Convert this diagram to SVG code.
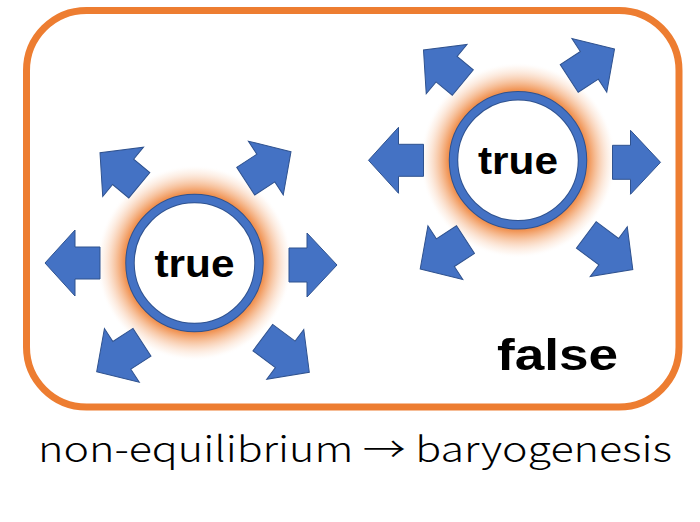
<svg xmlns="http://www.w3.org/2000/svg" xmlns:xlink="http://www.w3.org/1999/xlink" width="700" height="522" viewBox="0 0 700 522">
  <style>
    .frame { fill: none; stroke: #ED7D31; stroke-width: 7; }
    .arrow { fill: #4472C4; stroke: #2F528F; stroke-width: 1; stroke-linejoin: miter; }
    .ringOuter { fill: #ffffff; stroke: #2F528F; stroke-width: 9.5; }
    .ringInner { fill: none; stroke: #4472C4; stroke-width: 7.5; }
    .lbl { font-family: "Liberation Sans", Arial, sans-serif; font-weight: bold; fill: #000000; }
    .caption { font-family: "Noto Sans CJK JP", "Noto Sans", sans-serif; font-weight: 300; fill: #000000; }
  </style>
  <defs>
    <radialGradient id="glow" cx="0" cy="0" r="98" gradientUnits="userSpaceOnUse">
      <stop offset="0.66" stop-color="#ED7D31" stop-opacity="1"/>
      <stop offset="0.72" stop-color="#EE8238" stop-opacity="0.85"/>
      <stop offset="0.80" stop-color="#F0904D" stop-opacity="0.55"/>
      <stop offset="0.88" stop-color="#F3A46E" stop-opacity="0.3"/>
      <stop offset="0.95" stop-color="#F7C29C" stop-opacity="0.12"/>
      <stop offset="1" stop-color="#ffffff" stop-opacity="0"/>
    </radialGradient>
    <g id="burst">
      <circle cx="0" cy="0" r="98" fill="url(#glow)"/>
      <polygon class="arrow" transform="translate(142.5,2)" points="0,0 -30,-32 -30,-17 -48,-17 -48,17 -30,17 -30,32"/>
      <polygon class="arrow" transform="translate(-149.5,0) rotate(180)" points="0,0 -30,-33 -30,-16 -55,-16 -55,16 -30,16 -30,33"/>
      <polygon class="arrow" transform="translate(-94.5,-110.3) rotate(219.6)" points="0,0 -30,-32 -30,-16.5 -51,-16.5 -51,16.5 -30,16.5 -30,32"/>
      <polygon class="arrow" transform="translate(96.5,-111.3) rotate(-33)" points="0,0 -30,-32 -30,-16.5 -54,-16.5 -54,16.5 -30,16.5 -30,32"/>
      <polygon class="arrow" transform="translate(-97.8,108.7) rotate(147)" points="0,0 -30,-32 -30,-16.5 -54,-16.5 -54,16.5 -30,16.5 -30,32"/>
      <polygon class="arrow" transform="translate(114.8,109.3) rotate(36.7)" points="0,0 -30,-31 -30,-16.5 -58,-16.5 -58,16.5 -30,16.5 -30,31"/>
      <circle class="ringOuter" cx="0" cy="0" r="64.5"/>
      <circle class="ringInner" cx="0" cy="0" r="64.5"/>
    </g>
  </defs>

  <g id="frame">
    <rect class="frame" x="26.5" y="10.5" width="652.5" height="396.5" rx="60" ry="60"/>
  </g>

  <g id="node-left">
    <use xlink:href="#burst" href="#burst" transform="translate(194.5,263)"/>
    <text class="lbl" x="194.5" y="277" font-size="39" text-anchor="middle" textLength="80" lengthAdjust="spacingAndGlyphs">true</text>
  </g>

  <g id="node-right">
    <use xlink:href="#burst" href="#burst" transform="translate(518,160.3)"/>
    <text class="lbl" x="518" y="174.3" font-size="39" text-anchor="middle" textLength="80" lengthAdjust="spacingAndGlyphs">true</text>
  </g>

  <g id="label-false">
    <text class="lbl" x="557.5" y="370" font-size="44" text-anchor="middle" textLength="121" lengthAdjust="spacingAndGlyphs">false</text>
  </g>

  <g id="connectors"></g>

  <g id="caption">
    <text class="caption" x="38" y="462" font-size="35" textLength="634" lengthAdjust="spacingAndGlyphs">non-equilibrium → baryogenesis</text>
  </g>
</svg>
